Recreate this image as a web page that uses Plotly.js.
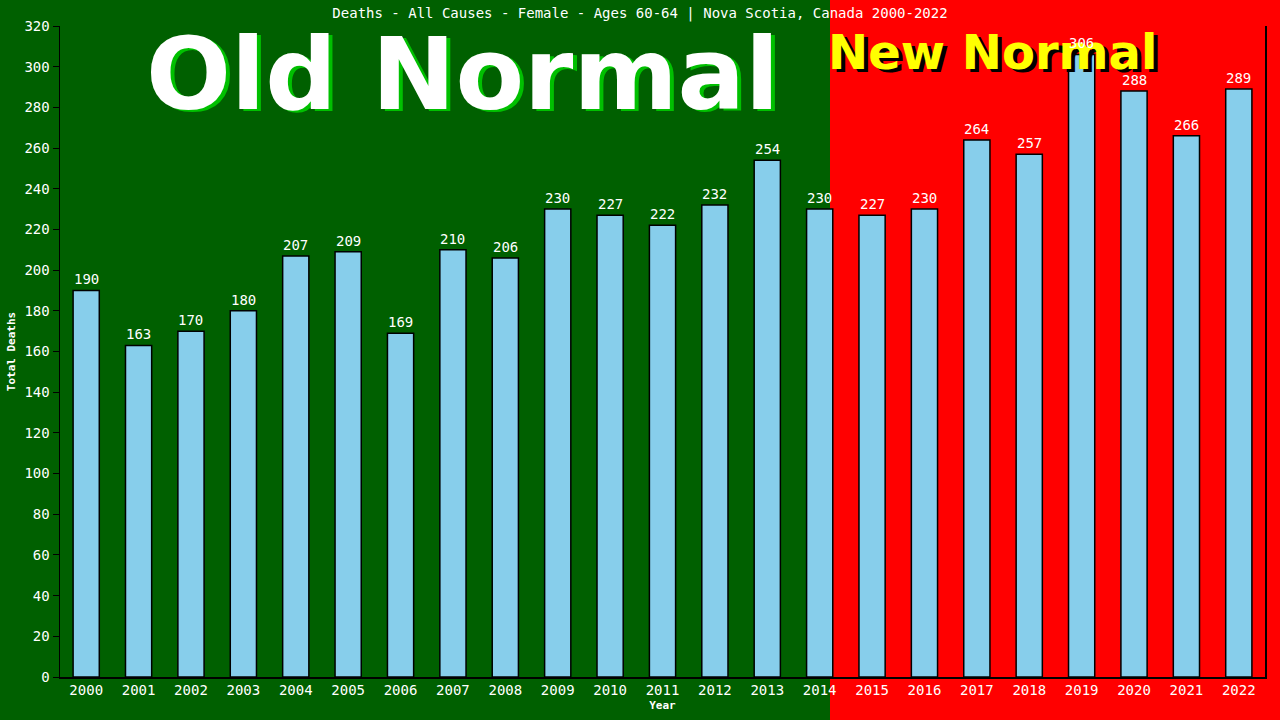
<!DOCTYPE html>
<html>
<head>
<meta charset="utf-8">
<script src="https://cdn.plot.ly/plotly-3.0.1.min.js"></script>
<style>
  html, body { margin: 0; padding: 0; background: #006000; }
  #chart { width: 1280px; height: 720px; }
</style>
</head>
<body>
<div id="chart"></div>
<script>
const years = ['2000', '2001', '2002', '2003', '2004', '2005', '2006', '2007', '2008', '2009', '2010', '2011',
  '2012', '2013', '2014', '2015', '2016', '2017', '2018', '2019', '2020', '2021', '2022'];
const deaths = [190, 163, 170, 180, 207, 209, 169, 210, 206, 230, 227, 222,
  232, 254, 230, 227, 230, 264, 257, 306, 288, 266, 289];
const yTicks = [0, 20, 40, 60, 80, 100, 120, 140, 160, 180, 200, 220, 240, 260, 280, 300, 320];

const mono = 'DejaVu Sans Mono, monospace';

const bars = {
  type: 'bar',
  x: years,
  y: deaths,
  marker: { color: '#87ceeb', line: { color: '#000000', width: 1.5 } },
  width: 0.5,
  hoverinfo: 'none'
};

// value labels as annotations so they sit above the big "New Normal" text, like the original
// (category index for x, the year strings look numeric to the annotation code)
const valueLabels = years.map((yr, i) => ({
  x: i, y: deaths[i], xref: 'x', yref: 'y',
  text: String(deaths[i]), showarrow: false,
  xanchor: 'center', yanchor: 'bottom', yshift: 1,
  font: { family: mono, size: 14, color: '#ffffff' }
}));

const layout = {
  width: 1280,
  height: 720,
  margin: { l: 60, r: 15, t: 26, b: 43, pad: 0 },
  paper_bgcolor: '#006000',
  plot_bgcolor: 'rgba(0,0,0,0)',
  showlegend: false,
  font: { family: mono, color: '#ffffff', size: 14 },
  title: {
    text: 'Deaths - All Causes - Female - Ages 60-64 | Nova Scotia, Canada 2000-2022',
    font: { family: mono, size: 14, color: '#ffffff' },
    x: 0.5, xanchor: 'center', y: 0.982, yanchor: 'middle'
  },
  xaxis: {
    type: 'category',
    range: [-0.5, years.length - 0.5],
    showgrid: false,
    zeroline: false,
    showline: true,
    linecolor: '#000000',
    linewidth: 1.5,
    ticks: '',
    tickfont: { family: mono, size: 14, color: '#ffffff' },
    title: { text: '<b>Year</b>', font: { family: mono, size: 11, color: '#ffffff' }, standoff: 4 }
  },
  yaxis: {
    range: [0, 320],
    tickvals: yTicks,
    ticktext: yTicks.map(String),
    showgrid: false,
    zeroline: false,
    showline: true,
    mirror: true,
    linecolor: '#000000',
    linewidth: 1.5,
    ticks: 'outside',
    ticklen: 6,
    tickcolor: '#000000',
    tickfont: { family: mono, size: 14, color: '#ffffff' },
    title: { text: '<b>Total Deaths</b>', font: { family: mono, size: 11, color: '#ffffff' }, standoff: 6 }
  },
  shapes: [
    { type: 'rect', xref: 'paper', yref: 'paper', x0: 0.639, x1: 1.2, y0: -0.2, y1: 1.2,
      fillcolor: '#ff0000', line: { width: 0 }, layer: 'below' }
  ],
  annotations: [
    { xref: 'paper', yref: 'paper', x: 0.3375, y: 0.922, xanchor: 'center', yanchor: 'middle',
      text: '<b>Old Normal</b>', showarrow: false,
      font: { family: 'DejaVu Sans', size: 100, color: '#00c000' } },
    { xref: 'paper', yref: 'paper', x: 0.334, y: 0.925, xanchor: 'center', yanchor: 'middle',
      text: '<b>Old Normal</b>', showarrow: false,
      font: { family: 'DejaVu Sans', size: 100, color: '#ffffff' } },
    { xref: 'paper', yref: 'paper', x: 0.777, y: 0.955, xanchor: 'center', yanchor: 'middle',
      text: '<b>New Normal</b>', showarrow: false,
      font: { family: 'DejaVu Sans', size: 48, color: '#000000' } },
    { xref: 'paper', yref: 'paper', x: 0.774, y: 0.960, xanchor: 'center', yanchor: 'middle',
      text: '<b>New Normal</b>', showarrow: false,
      font: { family: 'DejaVu Sans', size: 48, color: '#ffff00' } }
  ].concat(valueLabels)
};

Plotly.newPlot('chart', [bars], layout, { staticPlot: true, displayModeBar: false });
</script>
</body>
</html>
